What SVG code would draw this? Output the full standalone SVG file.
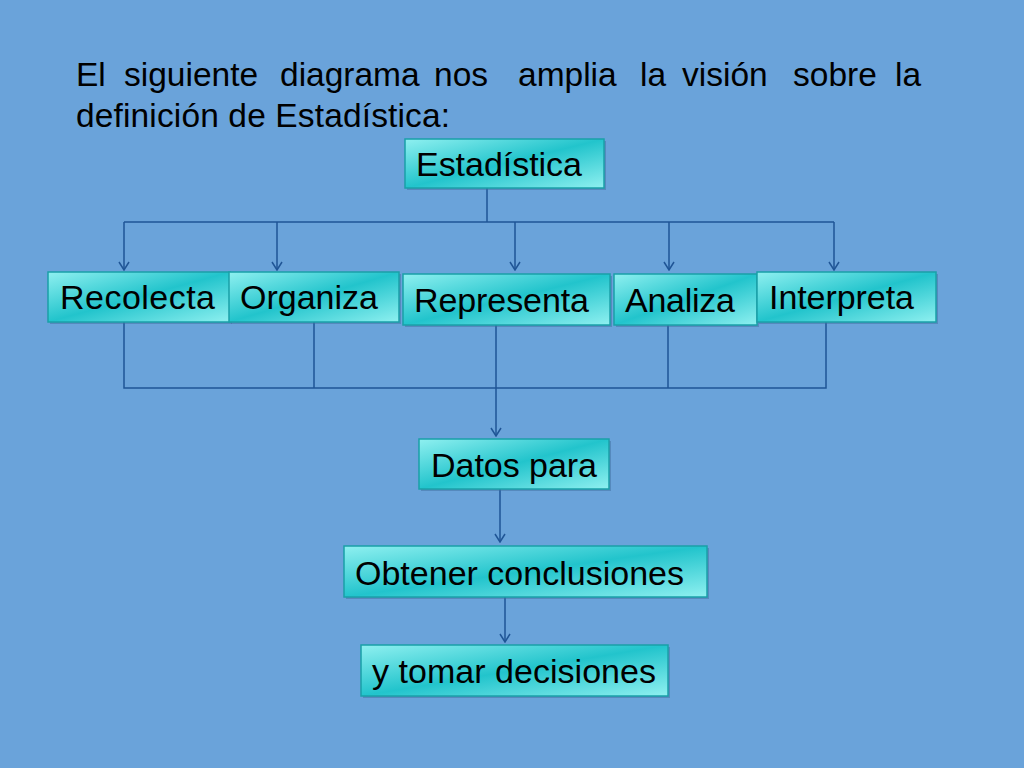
<svg xmlns="http://www.w3.org/2000/svg" width="1024" height="768" viewBox="0 0 1024 768">
<defs>
<linearGradient id="g" x1="0" y1="0" x2="1" y2="1">
<stop offset="0" stop-color="#8ff0f0"/><stop offset="0.5" stop-color="#22c4cc"/><stop offset="1" stop-color="#8ff0f0"/>
</linearGradient>
<marker id="a" markerWidth="10" markerHeight="12" refX="9" refY="6" orient="auto" markerUnits="userSpaceOnUse" viewBox="0 0 10 12">
<path d="M1,1 L9,6 L1,11" fill="none" stroke="#1f5596" stroke-width="1.5"/>
</marker>
</defs>
<style>
.b{fill:url(#g);stroke:#1aa0a8;stroke-width:1.5}
.s{fill:#3f6f9f;opacity:0.5}
.t{font-family:"Liberation Sans",Arial,sans-serif;font-size:34px;fill:#000}
.l{fill:none;stroke:#1f5596;stroke-width:1.5}
.h{font-family:"Liberation Sans",Arial,sans-serif;font-size:33.5px;fill:#000}
</style>
<rect width="1024" height="768" fill="#6aa3da"/>
<text class="h" y="86"><tspan x="76">El</tspan><tspan x="124">siguiente</tspan><tspan x="280">diagrama</tspan><tspan x="434">nos</tspan><tspan x="518">amplia</tspan><tspan x="640">la</tspan><tspan x="682">visión</tspan><tspan x="793">sobre</tspan><tspan x="895">la</tspan></text>
<text class="h" x="76" y="127" textLength="374">definición de Estadística:</text>
<g id="connectors">
<path class="l" d="M487,188 V222 M124,222 H834"/>
<path class="l" marker-end="url(#a)" d="M124,222 V270"/>
<path class="l" marker-end="url(#a)" d="M277,222 V270"/>
<path class="l" marker-end="url(#a)" d="M515,222 V270"/>
<path class="l" marker-end="url(#a)" d="M669,222 V270"/>
<path class="l" marker-end="url(#a)" d="M834,222 V270"/>
<path class="l" d="M124,322 V388 H826 V322 M314,322 V388 M668,325 V388"/>
<path class="l" marker-end="url(#a)" d="M496,325 V436"/>
<path class="l" marker-end="url(#a)" d="M500,489 V542"/>
<path class="l" marker-end="url(#a)" d="M505,597 V642"/>
</g>
<g id="n0"><rect class="s" x="407" y="141" width="199" height="49"/><rect class="b" x="405" y="139" width="199" height="49"/><text class="t" x="416" y="176" textLength="166">Estadística</text></g>
<g id="n1"><rect class="s" x="50" y="274" width="182" height="50"/><rect class="b" x="48" y="272" width="182" height="50"/><text class="t" x="60" y="309" textLength="155">Recolecta</text></g>
<g id="n2"><rect class="s" x="231" y="274" width="170" height="50"/><rect class="b" x="229" y="272" width="170" height="50"/><text class="t" x="240" y="309" textLength="138">Organiza</text></g>
<g id="n3"><rect class="s" x="405" y="276" width="207" height="51"/><rect class="b" x="403" y="274" width="207" height="51"/><text class="t" x="414" y="312" textLength="175">Representa</text></g>
<g id="n4"><rect class="s" x="616" y="276" width="143" height="51"/><rect class="b" x="614" y="274" width="143" height="51"/><text class="t" x="625" y="312" textLength="110">Analiza</text></g>
<g id="n5"><rect class="s" x="759" y="274" width="179" height="50"/><rect class="b" x="757" y="272" width="179" height="50"/><text class="t" x="769" y="309" textLength="145">Interpreta</text></g>
<g id="n6"><rect class="s" x="421" y="441" width="190" height="50"/><rect class="b" x="419" y="439" width="190" height="50"/><text class="t" x="431" y="477" textLength="166">Datos para</text></g>
<g id="n7"><rect class="s" x="346" y="548" width="363" height="51"/><rect class="b" x="344" y="546" width="363" height="51"/><text class="t" x="355" y="585" textLength="329">Obtener conclusiones</text></g>
<g id="n8"><rect class="s" x="363" y="647" width="307" height="51"/><rect class="b" x="361" y="645" width="307" height="51"/><text class="t" x="372" y="683" textLength="284">y tomar decisiones</text></g>
</svg>
